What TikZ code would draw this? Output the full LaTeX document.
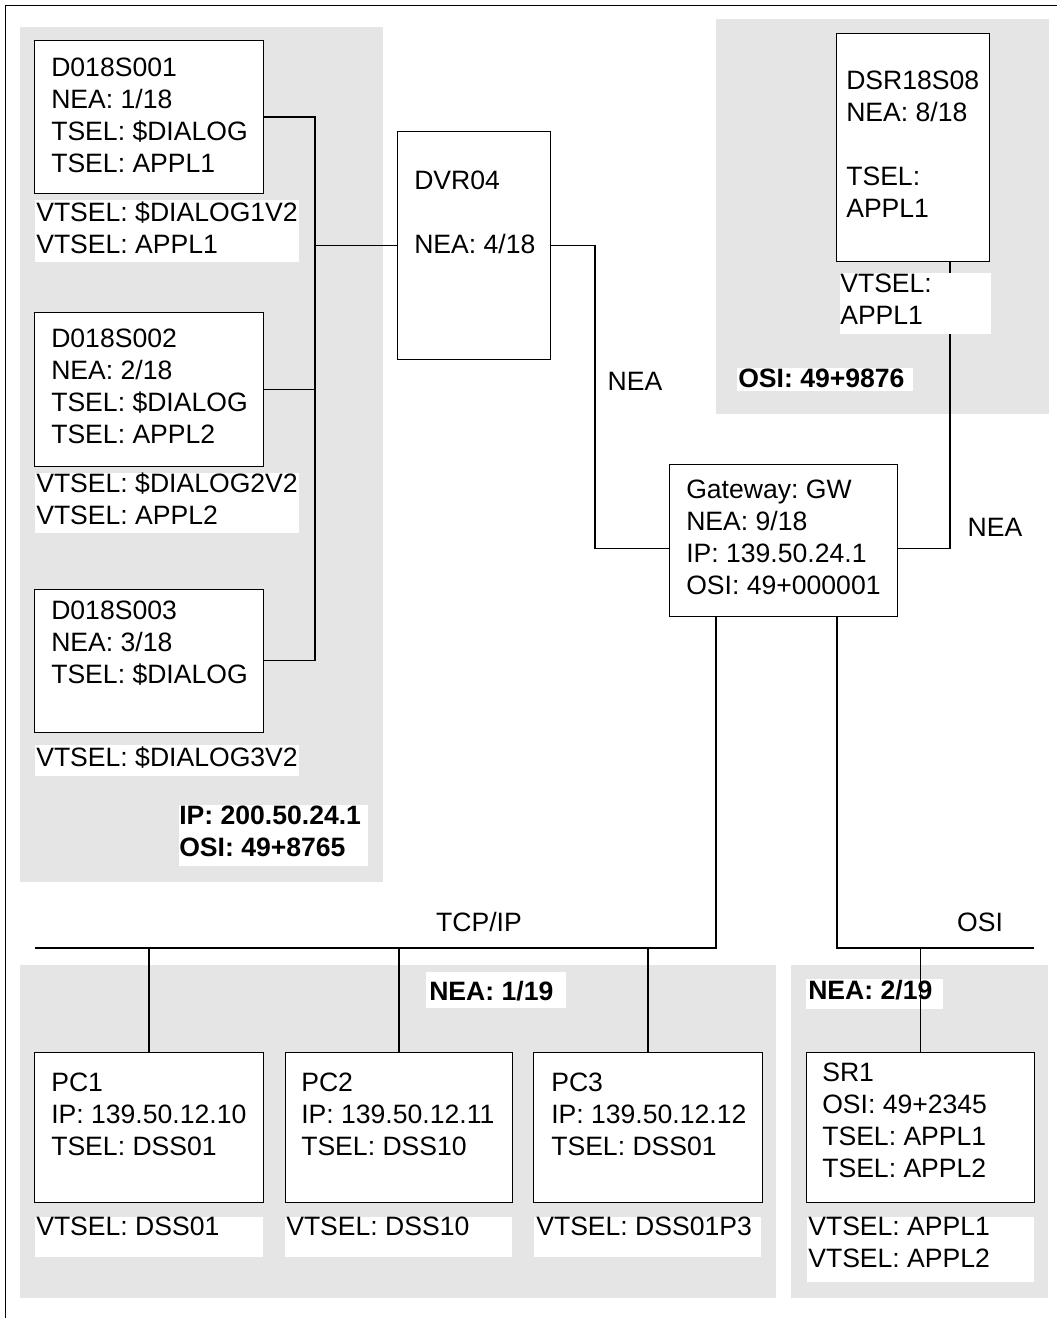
\documentclass[tikz,border=0pt]{standalone}
\usepackage{fontspec}
\setmainfont{Liberation Sans}
\definecolor{zone}{HTML}{E5E5E5}
\newcommand{\netfont}{\fontsize{18.9}{22.76}\selectfont}
\frenchspacing

\begin{document}
\begin{tikzpicture}[x=0.025cm, y=-0.025cm, font=\netfont,
        unit/.style={rectangle, draw=black, fill=white, line width=0.7pt, inner sep=0pt, outer sep=0pt},
        txt/.style={anchor=north west, align=left, inner sep=0pt},
        bold/.style={txt, font=\netfont\bfseries},
        tag/.style={fill=white},
        area/.style={fill=zone},
        link/.style={line width=1.3pt}
    ]
        \useasboundingbox (0,0) rectangle (1057,1318);

        % Frame
        \draw[line width=0.7pt] (1057,5) -- (5,5) -- (5,1318);

        % Domains
        \fill[area] (20,27) rectangle (383,882);
        \fill[area] (716,19) rectangle (1049,414);
        \fill[area] (20,965) rectangle (776,1298);
        \fill[area] (791,965) rectangle (1048,1298);

        % Label backgrounds
        \fill[tag] (35,200) rectangle (299,262);
        \fill[tag] (35,473) rectangle (299,533);
        \fill[tag] (35,745) rectangle (299,776);
        \fill[tag] (179,805) rectangle (368,866);
        \fill[tag] (737,368) rectangle (913,391);
        \fill[tag] (426,972) rectangle (566,1008);
        \fill[tag] (806,979) rectangle (943,1009);
        \fill[tag] (35,1217) rectangle (263,1257);
        \fill[tag] (285,1217) rectangle (512,1257);
        \fill[tag] (534,1217) rectangle (761,1257);
        \fill[tag] (807,1217) rectangle (1034,1282);

        % Hosts
        \node[unit, minimum width=5.7cm, minimum height=3.8cm] (d1) at (149,117) {};
        \node[unit, minimum width=5.7cm, minimum height=3.825cm] (d2) at (149,389.5) {};
        \node[unit, minimum width=5.7cm, minimum height=3.575cm] (d3) at (149,660.5) {};
        \node[unit, minimum width=3.8cm, minimum height=5.675cm] (dvr) at (474,245.5) {};
        \node[unit, minimum width=3.8cm, minimum height=5.675cm] (dsr) at (913,147.5) {};
        \node[unit, minimum width=5.675cm, minimum height=3.775cm] (gw) at (783.5,540.5) {};
        \node[unit, minimum width=5.7cm, minimum height=3.75cm] (pc1) at (149,1127) {};
        \node[unit, minimum width=5.65cm, minimum height=3.75cm] (pc2) at (399,1127) {};
        \node[unit, minimum width=5.7cm, minimum height=3.75cm] (pc3) at (648,1127) {};
        \node[unit, minimum width=5.675cm, minimum height=3.75cm] (sr1) at (920.5,1127) {};

        % Buses
        \coordinate (trunk) at (315,0);
        \coordinate (tcp) at (35,948);
        \coordinate (osi) at (1034,948);

        % Connections
        \draw[link] (d1.east) -- (d1.east -| trunk) |- (d3.east);
        \draw[link] (d2.east) -- (d2.east -| trunk);
        \draw[link] (dvr.west) -- (dvr.west -| trunk);
        \draw[link] (dvr.east) -- ++(45,0) |- ([yshift=-0.2cm]gw.west);
        \draw[link] ([yshift=-0.2cm]gw.east) -| ([xshift=0.925cm]dsr.south);
        \draw[link] (tcp) -| ([xshift=-1.6875cm]gw.south);
        \draw[link] (osi) -| ([xshift=1.3375cm]gw.south);
        \draw[link] (pc1.north) -- (pc1.north |- tcp);
        \draw[link] (pc2.north) -- (pc2.north |- tcp);
        \draw[link] (pc3.north) -- (pc3.north |- tcp);
        \draw[link] (sr1.north) -- (sr1.north |- osi);

        % this one sits over the line
        \fill[tag] (840,273) rectangle (991,334);

        % Texts
        \node[txt] (d1txt) at (51,57.6) {D018S001\\NEA: 1/18\\TSEL: \$DIALOG\\TSEL: APPL1};
        \node[txt] (d1vt) at (36,201.6) {VTSEL: \$DIALOG1V2\\VTSEL: APPL1};
        \node[txt] (d2txt) at (51,328.6) {D018S002\\NEA: 2/18\\TSEL: \$DIALOG\\TSEL: APPL2};
        \node[txt] (d2vt) at (36,472.6) {VTSEL: \$DIALOG2V2\\VTSEL: APPL2};
        \node[txt] (d3txt) at (51,600.6) {D018S003\\NEA: 3/18\\TSEL: \$DIALOG};
        \node[txt] (d3vt) at (36,746.6) {VTSEL: \$DIALOG3V2};
        \node[bold] (lanleft) at (179,805.6) {IP: 200.50.24.1\\OSI: 49+8765};
        \node[txt] (dvrtxt) at (414,170.6) {DVR04\\[0.8cm]NEA: 4/18};
        \node[txt] (dsrtxt) at (846,70.6) {DSR18S08\\NEA: 8/18\\[0.8cm]TSEL:\\APPL1};
        \node[txt] (dsrvt) at (840,273.6) {VTSEL:\\APPL1};
        \node[bold] (lanright) at (738,368.6) {OSI: 49+9876};
        \node (neamid) at (635,381) {NEA};
        \node (nearight) at (995,527) {NEA};
        \node[txt] (gwtxt) at (686,479.6) {Gateway: GW\\NEA: 9/18\\IP: 139.50.24.1\\OSI: 49+000001};
        \node (tcplbl) at (479,922) {TCP/IP};
        \node (osilbl) at (980,922) {OSI};
        \node[bold] (nea119) at (429,980.6) {NEA: 1/19};
        \node[bold] (nea219) at (808,979.6) {NEA: 2/19};
        \node[txt] (pc1txt) at (51,1072.6) {PC1\\IP: 139.50.12.10\\TSEL: DSS01};
        \node[txt] (pc2txt) at (301,1072.6) {PC2\\IP: 139.50.12.11\\TSEL: DSS10};
        \node[txt] (pc3txt) at (551,1072.6) {PC3\\IP: 139.50.12.12\\TSEL: DSS01};
        \node[txt] (pc1vt) at (36,1216.6) {VTSEL: DSS01};
        \node[txt] (pc2vt) at (286,1216.6) {VTSEL: DSS10};
        \node[txt] (pc3vt) at (536,1216.6) {VTSEL: DSS01P3};
        \node[txt] (sr1txt) at (822,1062.6) {SR1\\OSI: 49+2345\\TSEL: APPL1\\TSEL: APPL2};
        \node[txt] (sr1vt) at (808,1216.6) {VTSEL: APPL1\\VTSEL: APPL2};
    \end{tikzpicture}
\end{document}
